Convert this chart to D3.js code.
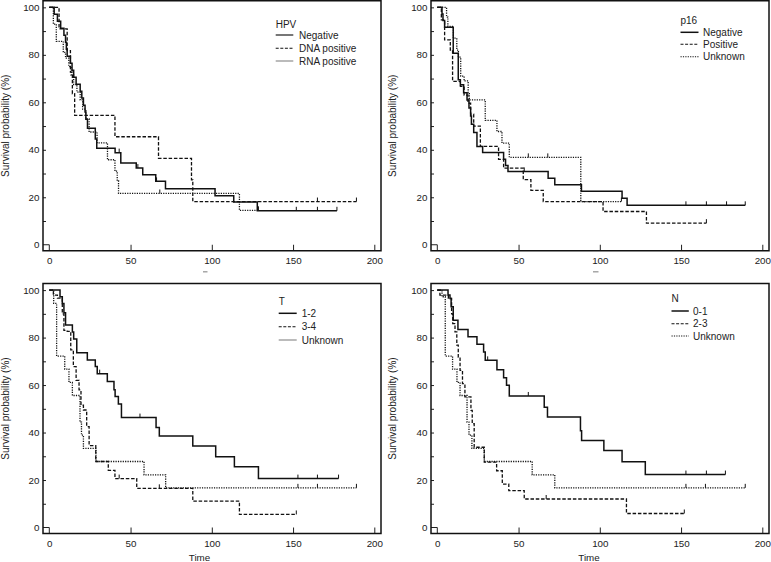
<!DOCTYPE html>
<html><head><meta charset="utf-8">
<script src="https://cdn.jsdelivr.net/npm/d3@7/dist/d3.min.js"></script>
<style>
body{margin:0;background:#fff}
svg{display:block}
text{font-family:"Liberation Sans",Arial,sans-serif;fill:#222}
</style>
</head><body>
<svg id="c" width="771" height="562"></svg>
<script>
// ---------- DATA (time, survival % after the step) ----------
const yTickValues = [0, 20, 40, 60, 80, 100];
const xTickValues = [0, 50, 100, 150, 200];

// Panel 1: HPV
const hpvNegative = [[0,100],[3,97.1],[5,94.1],[7,91.2],[9,88.2],[10,85.3],[10.5,82.4],[11,79.4],[13,76.5],[14,73.5],[15,70.6],[16.5,67.6],[19,64.7],[20,61.8],[21,58.8],[22,55.9],[22.5,52.9],[23.5,49.1],[28.3,44.5],[29.2,40.7],[40.5,38.8],[44,34.4],[53.5,32.3],[57.5,29.5],[65.5,26.7],[71.5,23.6],[102,20.6],[113.5,18],[128,14.3],[177,14.3]];
const hpvNegativeCensor = [43, 54.5, 66, 152, 165, 177];
const hpvDna = [[0,100],[6,90.9],[11,81.8],[13,72.7],[14.2,63.6],[15.6,54.5],[40.4,45.5],[67.2,36.4],[87.5,27.3],[88.3,18.2],[189,18.2]];
const hpvDnaCensor = [165, 189];
const hpvRna = [[0,100],[2.5,92.9],[4.3,85.7],[8.6,81],[10,78.6],[12,75],[13.5,71.4],[15,67.5],[17,64.3],[19,61],[20.5,57.1],[22.5,53],[24.5,47.5],[29.4,42.9],[35.8,35.8],[40.4,31],[41.8,27],[42.6,21.6],[117,14.5],[128.7,14.5]];
const hpvRnaCensor = [68, 128.7];

// Panel 2: p16
const p16Negative = [[0,100],[2.9,97.2],[3.5,94.5],[4.5,91.6],[9.8,80.7],[12.9,69.5],[14.2,67.4],[16.2,64],[18.3,61],[19.5,57.6],[20.5,54.2],[21,50.8],[22.4,47.3],[24.4,41.4],[27.9,38.9],[40.8,36],[42,33.4],[43.5,30.9],[68.2,28],[72.3,25.3],[88.7,22.5],[113.7,19.6],[116.8,16.6],[189.5,16.6]];
const p16NegativeCensor = [53.5, 153, 165.6, 178, 189.5];
const p16Positive = [[0,100],[2.5,94.7],[4.5,86.3],[8,82],[9.4,68.8],[14.2,66.7],[16.5,63],[18.9,59.6],[20.5,55],[22.4,50],[26.5,41.4],[37.7,36],[40.8,32.3],[52.9,27.4],[57.6,22.9],[65.2,18.2],[102,14],[128.7,9.1],[165.6,9.1]];
const p16PositiveCensor = [165.6];
const p16Unknown = [[0,100],[5.7,95.9],[6.5,92],[9.9,87],[12,82],[13,79],[14.4,71],[16.5,69],[19,64],[19.7,61],[29.5,52.4],[36.7,47.7],[39.8,42.8],[44.3,36.8],[88.3,18.2],[113.3,18.2]];
const p16UnknownCensor = [56, 68, 113.3];

// Panel 3: T
const t12 = [[0,100],[6.6,97.2],[8,94.4],[9,90.5],[10,85.3],[14.2,82.4],[15,79.4],[16.9,73.6],[23.4,70.6],[28.3,67.8],[29.5,64.8],[35.7,61.5],[39.8,58],[40.5,55.2],[42.5,52],[44.4,46.3],[65.7,42.1],[67.7,38.5],[88.3,34.3],[102.4,29.8],[113.9,25.6],[128.7,20.6],[178,20.6]];
const t12Censor = [31, 55.8, 153, 165, 178];
const t34 = [[0,100],[2.5,97.9],[5,96.6],[8,90],[9,83],[11,82.6],[13.2,74.8],[14.8,67.8],[16.5,62],[18.3,58],[19.5,51.5],[21,49.5],[23,42.5],[24.5,34.5],[28.6,27.8],[36.3,24.1],[40.4,20.6],[53.8,16.5],[88.3,11.1],[117,5.5],[152,5.5]];
const t34Censor = [43, 67.7, 152];
const tUnknown = [[0,100],[2.7,94.4],[4.5,72.2],[9.5,66.7],[12.1,61.1],[14.2,55.6],[18.9,44.4],[19.8,38.9],[21,33.3],[28.7,27.8],[58.3,22.2],[71.6,16.7],[189,16.7]];
const tUnknownCensor = [153, 165, 189];

// Panel 4: N
const n01 = [[0,100],[6.6,97.9],[7.8,96.5],[8.5,93],[9.8,87.3],[12.7,83.4],[18.9,80.3],[24.4,77.2],[28.5,73.9],[29.5,70.4],[36.7,66.5],[40.8,63.1],[42.6,59.9],[44.3,55.4],[65.8,50.7],[67.8,46.5],[88.1,40.8],[88.8,36.6],[102.5,32.4],[113.7,27.7],[128,22.3],[177.3,22.3]];
const n01Censor = [31, 56, 153, 165.6, 177.3];
const n23 = [[0,100],[1.6,97.9],[6.8,96.5],[8.8,90],[9.5,85.9],[10.9,82.4],[12,76.8],[12.9,71.8],[14,66.2],[15.5,60.6],[17,55],[20.7,49.3],[21.5,43.7],[22.7,33.8],[28.9,27.5],[36.5,23.9],[40,18.3],[44,15.5],[53.5,12],[116.4,5.9],[152,5.9]];
const n23Censor = [67, 152];
const nUnknown = [[0,100],[2.9,97.2],[4.9,72.2],[9.4,66.7],[12.1,61.1],[14,55.6],[18.3,44.4],[19.5,38.9],[21.3,33.3],[28.9,27.8],[58.4,22.2],[72.3,16.7],[189.5,16.7]];
const nUnknownCensor = [153, 165, 189.5];

// ---------- LAYOUT / STYLE ----------
const STY = {
  solid:  {dash: null, w: 1.5},
  dashed: {dash: "3.5,1.8", w: 1.3},
  dotted: {dash: "1.2,1.2", w: 1.3}
};
const LEG = {
  solid:  {dash: null, w: 1.5, c: "#111"},
  solidGray: {dash: null, w: 1.6, c: "#555"},
  dashed: {dash: "3,1.6", w: 1.1, c: "#111"},
  dotted: {dash: "1.2,1.2", w: 1.1, c: "#111"},
  lightGray: {dash: null, w: 1.6, c: "#aaa"}
};

const panels = [
  {x0:43, y0:0.75, yTitleX:8.5, title:"HPV", legX:275.7, legTitleY:24, legY:[35,48.3,61], lineLen:17.6, textX:299, stub:[203,207.5,271.8],
   series:[
     {name:"Negative", data:hpvNegative, censor:hpvNegativeCensor, style:"solid", leg:"solidGray"},
     {name:"DNA positive", data:hpvDna, censor:hpvDnaCensor, style:"dashed", leg:"dashed"},
     {name:"RNA positive", data:hpvRna, censor:hpvRnaCensor, style:"dotted", leg:"lightGray"}]},
  {x0:431, y0:0.75, yTitleX:395.5, title:"p16", legX:680.5, legTitleY:20.7, legY:[32.3,44.3,56.7], lineLen:18, textX:703, stub:[593,598.5,271.8],
   series:[
     {name:"Negative", data:p16Negative, censor:p16NegativeCensor, style:"solid", leg:"solid"},
     {name:"Positive", data:p16Positive, censor:p16PositiveCensor, style:"dashed", leg:"dashed"},
     {name:"Unknown", data:p16Unknown, censor:p16UnknownCensor, style:"dotted", leg:"dotted"}]},
  {x0:43, y0:283.5, yTitleX:8.5, title:"T", legX:278.7, legTitleY:301.7, legY:[313.3,326.7,340], lineLen:18, textX:301.7, timeX:199.5,
   series:[
     {name:"1-2", data:t12, censor:t12Censor, style:"solid", leg:"solid"},
     {name:"3-4", data:t34, censor:t34Censor, style:"dashed", leg:"dashed"},
     {name:"Unknown", data:tUnknown, censor:tUnknownCensor, style:"dotted", leg:"lightGray"}]},
  {x0:431, y0:283.5, yTitleX:395.5, title:"N", legX:671.5, legTitleY:298.3, legY:[311,323.7,336], lineLen:17.3, textX:693, timeX:589,
   series:[
     {name:"0-1", data:n01, censor:n01Censor, style:"solid", leg:"solid"},
     {name:"2-3", data:n23, censor:n23Censor, style:"dashed", leg:"dashed"},
     {name:"Unknown", data:nUnknown, censor:nUnknownCensor, style:"dotted", leg:"dotted"}]}
];

const W = 338, H = 250;
const svg = d3.select("#c");

function stepValue(data, t) {
  let v = data[0][1];
  for (const d of data) { if (d[0] <= t) v = d[1]; }
  return v;
}

panels.forEach(p => {
  const g = svg.append("g");
  const x = d3.scaleLinear().domain([0, 200]).range([p.x0 + 6.3, p.x0 + 331.3]);
  const y = d3.scaleLinear().domain([0, 100]).range([p.y0 + 244, p.y0 + 6.6]);
  const bottom = p.y0 + H;

  // inward y minor/major ticks
  const yt = g.append("g").attr("transform", `translate(${p.x0},0)`)
    .call(d3.axisRight(y).tickValues(d3.range(10, 101, 10)).tickSize(3).tickFormat(""));
  yt.select(".domain").remove();
  yt.selectAll("line").attr("stroke", "#222").attr("stroke-width", 1);

  // y labels
  const yl = g.append("g").attr("transform", `translate(${p.x0},0)`)
    .call(d3.axisLeft(y).tickValues(yTickValues).tickSize(0).tickPadding(3.5));
  yl.select(".domain").remove();
  yl.selectAll("text").attr("font-size", 9.8).attr("font-family", '"Liberation Sans",Arial,sans-serif').attr("fill", "#222");

  // inward x ticks
  const xt = g.append("g").attr("transform", `translate(0,${bottom})`)
    .call(d3.axisTop(x).tickValues(xTickValues.slice(1)).tickSize(6).tickFormat(""));
  xt.select(".domain").remove();
  xt.selectAll("line").attr("stroke", "#222").attr("stroke-width", 1);

  // x labels
  const xl = g.append("g").attr("transform", `translate(0,${bottom})`)
    .call(d3.axisBottom(x).tickValues(xTickValues).tickSize(0).tickPadding(6.5));
  xl.select(".domain").remove();
  xl.selectAll("text").attr("font-size", 9.8).attr("font-family", '"Liberation Sans",Arial,sans-serif').attr("fill", "#222");

  // zero hook (y tick at 0 and x tick at 0)
  g.append("path")
    .attr("d", `M${p.x0},${y(0)}H${x(0)}V${bottom}`)
    .attr("fill", "none").attr("stroke", "#222").attr("stroke-width", 1);

  // frame
  g.append("rect").attr("x", p.x0).attr("y", p.y0).attr("width", W).attr("height", H)
    .attr("fill", "none").attr("stroke", "#111").attr("stroke-width", 1.5);

  // y title
  g.append("text")
    .attr("transform", `translate(${p.yTitleX},${p.y0 + 125}) rotate(-90)`)
    .attr("text-anchor", "middle").attr("font-size", 10).attr("fill", "#333")
    .text("Survival probability (%)");

  // x title
  if (p.timeX !== undefined) {
    g.append("text").attr("x", p.timeX).attr("y", bottom + 27.3)
      .attr("text-anchor", "middle").attr("font-size", 9.8).attr("fill", "#333")
      .text("Time");
  }
  if (p.stub) {
    g.append("line").attr("x1", p.stub[0]).attr("x2", p.stub[1]).attr("y1", p.stub[2]).attr("y2", p.stub[2])
      .attr("stroke", "#999").attr("stroke-width", 1.3);
  }

  // curves
  const line = d3.line().x(d => x(d[0])).y(d => y(d[1])).curve(d3.curveStepAfter);
  p.series.forEach(s => {
    const st = STY[s.style];
    g.append("path").attr("d", line(s.data))
      .attr("fill", "none").attr("stroke", "#111").attr("stroke-width", st.w)
      .attr("stroke-dasharray", st.dash);
    g.selectAll(null).data(s.censor).enter().append("line")
      .attr("x1", d => x(d)).attr("x2", d => x(d))
      .attr("y1", d => y(stepValue(s.data, d)))
      .attr("y2", d => y(stepValue(s.data, d)) - 4)
      .attr("stroke", "#111").attr("stroke-width", 1);
  });

  // legend
  g.append("text").attr("x", p.legX).attr("y", p.legTitleY).attr("dy", "0.35em")
    .attr("font-size", 10).text(p.title);
  p.series.forEach((s, i) => {
    const ls = LEG[s.leg];
    g.append("line").attr("x1", p.legX).attr("x2", p.legX + p.lineLen)
      .attr("y1", p.legY[i]).attr("y2", p.legY[i])
      .attr("stroke", ls.c).attr("stroke-width", ls.w).attr("stroke-dasharray", ls.dash);
    g.append("text").attr("x", p.textX).attr("y", p.legY[i]).attr("dy", "0.35em")
      .attr("font-size", 10).text(s.name);
  });
});
</script>
</body></html>
